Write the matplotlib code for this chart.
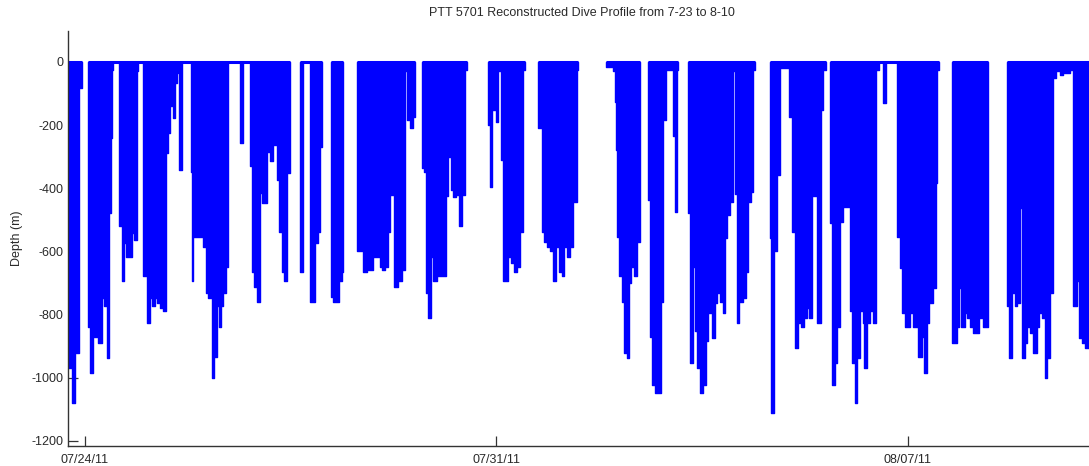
import matplotlib
matplotlib.use("Agg")
import matplotlib.pyplot as plt
import numpy as np

# Time axis: days since 2011-07-23 00:00 ; depth in metres (positive down)
tick_days = [1, 8, 15]
tick_labels = ["07/24/11", "07/31/11", "08/07/11"]
depth_ticks = [-1200, -1000, -800, -600, -400, -200, 0]

# Dive bouts: step edges (days) and max depth (m) for each step
bout_edges = [
    [0.716, 0.774, 0.830, 0.847, 0.898, 0.944],
    [1.057, 1.085, 1.131, 1.159, 1.199, 1.227, 1.295, 1.329, 1.369, 1.414, 1.442, 1.465, 1.482],
    [1.584, 1.624, 1.664, 1.692, 1.794, 1.834, 1.891, 1.908],
    [1.993, 2.050, 2.106, 2.135, 2.191, 2.220, 2.276, 2.333, 2.379, 2.418, 2.447, 2.475, 2.503, 2.532, 2.560, 2.588],
    [2.605, 2.645],
    [2.798, 2.815, 2.844, 3.014, 3.054, 3.099, 3.156, 3.195, 3.241, 3.280, 3.309, 3.354, 3.394, 3.439],
    [3.638, 3.695],
    [3.808, 3.836, 3.876, 3.922, 3.978, 4.007, 4.092, 4.148, 4.205, 4.262, 4.302, 4.347, 4.387, 4.432, 4.489],
    [4.659, 4.716],
    [4.829, 4.914, 4.971, 4.999, 5.028],
    [5.181, 5.226, 5.323, 5.368, 5.396],
    [5.623, 5.708, 5.737, 5.794, 5.822, 5.896, 6.020, 6.049, 6.106, 6.162, 6.191, 6.264, 6.332, 6.389, 6.446, 6.474, 6.531, 6.588, 6.616],
    [6.730, 6.769, 6.803, 6.843, 6.888, 6.928, 6.996, 7.144, 7.183, 7.223, 7.257, 7.314, 7.371, 7.422, 7.467, 7.495],
    [7.864, 7.892, 7.921, 7.989, 8.034, 8.074, 8.119, 8.204, 8.244, 8.301, 8.358, 8.403, 8.460, 8.488],
    [8.715, 8.772, 8.811, 8.868, 8.914, 8.970, 9.016, 9.072, 9.112, 9.152, 9.197, 9.254, 9.311, 9.367, 9.396],
    [9.867, 9.991, 10.020, 10.037, 10.059, 10.093, 10.133, 10.173, 10.218, 10.264, 10.286, 10.343, 10.400, 10.445],
    [10.587, 10.615, 10.644, 10.700, 10.797, 10.842, 10.854, 10.888, 11.012, 11.041, 11.080, 11.098],
    [11.268, 11.296, 11.353, 11.381, 11.410, 11.421, 11.466, 11.512, 11.568, 11.608, 11.665, 11.722, 11.761, 11.807,
     11.852, 11.892, 11.931, 11.977, 12.022, 12.056, 12.090, 12.136, 12.204, 12.249, 12.289, 12.329, 12.374, 12.402],
    [12.658, 12.675, 12.726, 12.782, 12.828, 12.987, 13.026, 13.083, 13.140, 13.180, 13.236, 13.282, 13.327, 13.367,
     13.463, 13.520, 13.565, 13.611],
    [13.679, 13.707, 13.764, 13.803, 13.849, 13.906, 14.019, 14.048, 14.104, 14.144, 14.189, 14.235, 14.263, 14.303,
     14.359, 14.405, 14.462, 14.518],
    [14.586, 14.632],
    [14.813, 14.870, 14.898, 14.955, 15.040, 15.086, 15.182, 15.239, 15.278, 15.324, 15.369, 15.426, 15.483, 15.505, 15.539],
    [15.749, 15.834, 15.880, 15.908, 15.976, 16.016, 16.061, 16.118, 16.220, 16.277, 16.317, 16.373],
    [16.685, 16.731, 16.782, 16.827, 16.856, 16.912, 16.941, 16.997, 17.037, 17.082, 17.139, 17.196, 17.241, 17.281,
     17.338, 17.377, 17.423, 17.479, 17.525, 17.593, 17.650, 17.763, 17.820],
    [17.820, 17.888, 17.922, 17.962, 18.018, 18.120],
]
bout_depths = [
    [968, 1079, 522, 921, 82],
    [838, 985, 795, 870, 731, 890, 747, 774, 937, 479, 241, 25],
    [521, 695, 573, 616, 541, 563, 30],
    [679, 827, 748, 774, 748, 764, 780, 790, 289, 226, 141, 114, 177, 67, 35],
    [342],
    [347, 695, 553, 585, 731, 747, 1001, 933, 774, 838, 774, 731, 648],
    [257],
    [331, 664, 711, 759, 416, 447, 284, 313, 263, 373, 537, 664, 695, 352],
    [664],
    [759, 574, 537, 268],
    [743, 759, 695, 664],
    [600, 35, 664, 632, 658, 616, 648, 658, 648, 537, 421, 711, 695, 658, 30, 184, 210, 173],
    [337, 349, 732, 811, 616, 695, 679, 426, 300, 405, 427, 421, 521, 421, 25],
    [199, 395, 152, 189, 30, 310, 695, 616, 637, 664, 648, 537, 25],
    [210, 537, 569, 585, 600, 695, 585, 664, 679, 585, 616, 585, 442, 25],
    [15, 30, 126, 279, 553, 679, 759, 922, 938, 700, 648, 679, 569],
    [437, 870, 1022, 1049, 759, 25, 184, 25, 236, 474, 25],
    [479, 954, 648, 853, 648, 970, 1049, 1022, 885, 795, 875, 764, 732, 759, 795, 558, 484, 442, 30, 419, 827,
     759, 748, 664, 442, 411, 25],
    [558, 1112, 600, 358, 20, 173, 537, 906, 827, 838, 811, 780, 811, 426, 827, 152, 25],
    [511, 1022, 954, 838, 506, 458, 790, 954, 1080, 938, 790, 827, 970, 827, 790, 827, 25],
    [131],
    [553, 653, 795, 838, 795, 838, 933, 870, 985, 827, 764, 716, 384, 25],
    [890, 838, 716, 838, 795, 811, 838, 859, 811, 838, 838],
    [774, 938, 731, 774, 764, 463, 938, 890, 838, 859, 922, 838, 795, 811, 1001, 938, 731, 52, 30, 40, 35, 25],
    [774, 695, 875, 890, 906],
]

# Periods with record at the surface (0 m)
record_start = [0.716, 1.057, 4.659, 5.181, 5.623, 6.730, 7.864, 8.715, 9.867, 10.587, 11.268, 12.658, 13.679, 15.749, 16.685]
record_end = [0.944, 4.489, 5.028, 5.396, 6.616, 7.495, 8.488, 9.396, 10.445, 11.098, 12.402, 13.611, 15.539, 16.373, 18.120]

plt.rcParams["font.family"] = ["Liberation Sans", "DejaVu Sans"]
plt.rcParams["axes.unicode_minus"] = False

fig = plt.figure(figsize=(10.89, 4.66), dpi=100)
ax = fig.add_axes([68.3 / 1089, 20 / 466, (1096 - 68.3) / 1089, (446 - 31) / 466])

blue = "#0000ff"
for edges, depths in zip(bout_edges, bout_depths):
    e = np.asarray(edges, dtype=float)
    d = -np.asarray(depths, dtype=float)
    ax.fill_between(e, 0, np.r_[d, d[-1]], step="post", facecolor=blue, edgecolor=blue,
                    linewidth=1.0, zorder=2)

for s, e in zip(record_start, record_end):
    ax.plot([s, e], [0, 0], color=blue, lw=2.2, solid_capstyle="butt", zorder=2)

ax.set_xlim(0.716, 18.206)
ax.set_ylim(-1216, 98)
ax.set_xticks(tick_days)
ax.set_xticklabels(tick_labels)
ax.set_yticks(depth_ticks)
ax.set_yticklabels([str(v) for v in depth_ticks])

txtcol = "#2a2a2a"
for side in ["top", "right"]:
    ax.spines[side].set_visible(False)
for side in ["left", "bottom"]:
    ax.spines[side].set_color("#333333")
    ax.spines[side].set_linewidth(1.0)
    ax.spines[side].set_zorder(3)
ax.tick_params(axis="both", direction="in", length=7.5, width=0.9, color="#333333",
               labelsize=9, labelcolor=txtcol)
ax.tick_params(axis="x", pad=6)
ax.tick_params(axis="y", pad=3.5)

ax.set_ylabel("Depth (m)", fontsize=9, color=txtcol, labelpad=6)
ax.set_title("PTT 5701 Reconstructed Dive Profile from 7-23 to 8-10", fontsize=9, color=txtcol, pad=11)

fig.savefig("out.png", dpi=100)
